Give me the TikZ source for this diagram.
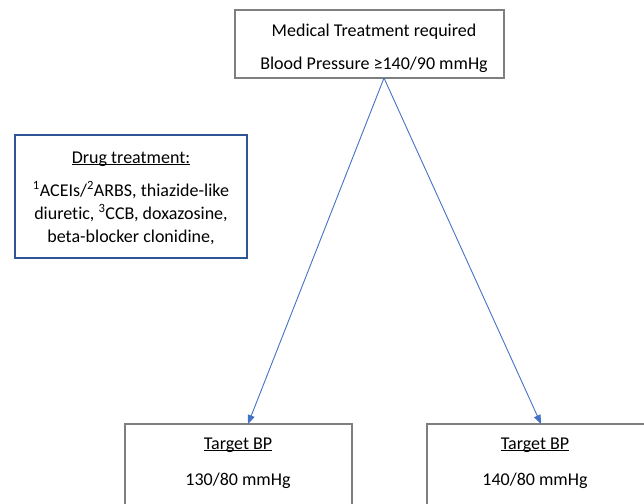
\documentclass[tikz,border=0pt]{standalone}
\usepackage{fontspec}
\setmainfont[Ligatures=NoCommon]{Carlito}
\usetikzlibrary{arrows.meta}
\newcommand\myul[1]{\setbox0\hbox{#1}\rlap{\rule[-2.3pt]{\wd0}{0.9pt}}\box0}
\definecolor{boxgray}{HTML}{7F7F7F}
\definecolor{arrowblue}{HTML}{4472C4}
\definecolor{drugblue}{HTML}{2F5597}
\tikzset{
  txt/.style={anchor=base, inner sep=0pt, font=\fontsize{18}{23}\selectfont},
  graybox/.style={draw=boxgray, line width=1.3pt},
  bluebox/.style={draw=drugblue, line width=1.3pt},
  arr/.style={draw=arrowblue, line width=0.9pt, -{Triangle[length=9pt,width=7pt]}}
}
\begin{document}
\begin{tikzpicture}[x=1pt,y=-1pt]
\useasboundingbox (0,0) rectangle (644,503);
\clip (0,0) rectangle (644,503);
% top box
\draw[graybox] (235,10) rectangle (504,78);
\node[txt] (t1) at (374,37) {Medical Treatment required};
\node[txt] (t2) at (374,69) {Blood Pressure ≥140/90 mmHg};
\coordinate (apex) at (384,78);
% drug box
\draw[bluebox] (15,135) rectangle (247,258);
\node[txt] (d0) at (131,163) {\myul{Drug treatment:}};
\node[txt] (d1) at (131,196) {\textsuperscript{1}ACEIs/\textsuperscript{2}ARBS, thiazide-like};
\node[txt] (d2) at (131,219) {diuretic, \textsuperscript{3}CCB, doxazosine,};
\node[txt] (d3) at (131,242) {beta-blocker clonidine,};
% bottom boxes
\draw[graybox] (125,424) rectangle (352,520);
\draw[graybox] (427,424) rectangle (660,520);
\node[txt] (l1) at (238,449) {\myul{Target BP}};
\node[txt] (l2) at (238,485) {130/80 mmHg};
\node[txt] (r1) at (535,449) {\myul{Target BP}};
\node[txt] (r2) at (535,485) {140/80 mmHg};
\coordinate (lt) at (248,424);
\coordinate (rt) at (541,424);
\draw[arr] (apex) -- (lt);
\draw[arr] (apex) -- (rt);
\end{tikzpicture}
\end{document}
